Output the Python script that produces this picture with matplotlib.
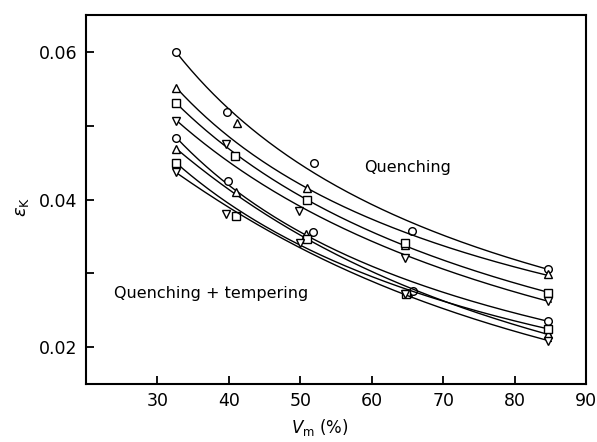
import numpy as np
import matplotlib
matplotlib.use("Agg")
import matplotlib.pyplot as plt
from matplotlib.ticker import FixedLocator

# Quenching series
q_circle_x = [32.6, 39.8, 51.9, 65.6, 84.7]
q_circle_y = [0.0600, 0.0518, 0.0450, 0.0358, 0.0306]
q_tri_x = [32.6, 41.1, 50.9, 64.6, 84.6]
q_tri_y = [0.0551, 0.0504, 0.0416, 0.0338, 0.0299]
q_sq_x = [32.6, 40.8, 50.9, 64.6, 84.7]
q_sq_y = [0.0531, 0.0459, 0.0399, 0.0341, 0.0274]
q_inv_x = [32.6, 39.6, 49.8, 64.6, 84.6]
q_inv_y = [0.0507, 0.0475, 0.0384, 0.0321, 0.0263]

# Quenching + tempering series
t_circle_x = [32.6, 39.9, 51.8, 65.7, 84.7]
t_circle_y = [0.0484, 0.0425, 0.0356, 0.0276, 0.0236]
t_tri_x = [32.6, 41.0, 50.8, 65.0, 84.6]
t_tri_y = [0.0469, 0.0410, 0.0353, 0.0274, 0.0218]
t_sq_x = [32.6, 41.0, 50.9, 64.8, 84.7]
t_sq_y = [0.0450, 0.0378, 0.0347, 0.0272, 0.0225]
t_inv_x = [32.6, 39.6, 49.9, 64.6, 84.6]
t_inv_y = [0.0437, 0.0380, 0.0341, 0.0272, 0.0209]

series = [
    (q_circle_x, q_circle_y, "o"),
    (q_tri_x, q_tri_y, "^"),
    (q_sq_x, q_sq_y, "s"),
    (q_inv_x, q_inv_y, "v"),
    (t_circle_x, t_circle_y, "o"),
    (t_tri_x, t_tri_y, "^"),
    (t_sq_x, t_sq_y, "s"),
    (t_inv_x, t_inv_y, "v"),
]

x_ticks = [30, 40, 50, 60, 70, 80, 90]
y_major = [0.02, 0.04, 0.06]
y_minor = [0.03, 0.05]

fig = plt.figure(figsize=(5.97, 4.42), dpi=100)
ax = fig.add_axes([0.144, 0.131, 0.838, 0.835])

for xs, ys, m in series:
    xs = np.asarray(xs)
    ys = np.asarray(ys)
    w = np.array([4.0, 1.0, 1.0, 1.0, 2.0])
    coef = np.polyfit(np.log(xs), np.log(ys), 2, w=w)
    xf = np.linspace(xs.min(), xs.max() + 0.5, 200)
    ax.plot(xf, np.exp(np.polyval(coef, np.log(xf))), color="black", lw=1.0)
    ax.plot(xs, ys, linestyle="none", marker=m, markersize=5.5,
            markerfacecolor="white", markeredgecolor="black", markeredgewidth=1.0)

ax.set_xlim(20, 90)
ax.set_ylim(0.015, 0.065)
ax.xaxis.set_major_locator(FixedLocator(x_ticks))
ax.yaxis.set_major_locator(FixedLocator(y_major))
ax.yaxis.set_minor_locator(FixedLocator(y_minor))
ax.set_xticklabels([str(t) for t in x_ticks])
ax.set_yticklabels(["0.02", "0.04", "0.06"])
ax.tick_params(which="both", direction="in", length=6, width=1.3, labelsize=12.5, pad=6)

for s in ax.spines.values():
    s.set_linewidth(1.5)

ax.text(58.9, 0.0443, "Quenching", fontsize=11.5, va="center", ha="left")
ax.text(23.9, 0.0273, "Quenching + tempering", fontsize=11.5, va="center", ha="left")

ax.set_xlabel(r"$V_\mathrm{m}$ (%)", fontsize=12)
ax.xaxis.set_label_coords(0.468, -0.088)
ax.set_ylabel(r"$\varepsilon_\mathrm{K}$", fontsize=13)
ax.yaxis.set_label_coords(-0.11, 0.48)

fig.savefig("out.png", dpi=100)
